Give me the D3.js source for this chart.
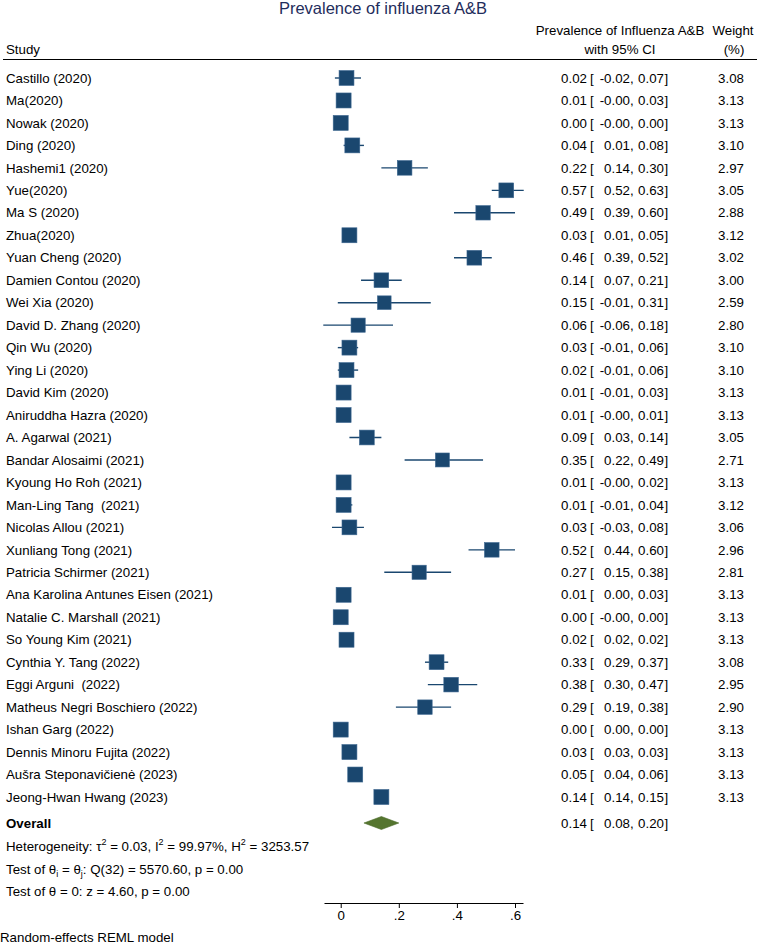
<!DOCTYPE html>
<html>
<head>
<meta charset="utf-8">
<script src="https://cdn.jsdelivr.net/npm/d3@7"></script>
<style>
  body { margin: 0; background: #fff; }
  svg { font-family: "Liberation Sans", Arial, sans-serif; }
  text { white-space: pre; }
</style>
</head>
<body>
<svg id="forest" width="761" height="944"></svg>
<script>
// study rows
var studies = [
  "Castillo (2020)", "Ma(2020)", "Nowak (2020)", "Ding (2020)", "Hashemi1 (2020)",
  "Yue(2020)", "Ma S (2020)", "Zhua(2020)", "Yuan Cheng (2020)", "Damien Contou (2020)",
  "Wei Xia (2020)", "David D. Zhang (2020)", "Qin Wu (2020)", "Ying Li (2020)", "David Kim (2020)",
  "Aniruddha Hazra (2020)", "A. Agarwal (2021)", "Bandar Alosaimi (2021)", "Kyoung Ho Roh (2021)",
  "Man-Ling Tang  (2021)", "Nicolas Allou (2021)", "Xunliang Tong (2021)", "Patricia Schirmer (2021)",
  "Ana Karolina Antunes Eisen (2021)", "Natalie C. Marshall (2021)", "So Young Kim (2021)",
  "Cynthia Y. Tang (2022)", "Eggi Arguni  (2022)", "Matheus Negri Boschiero (2022)", "Ishan Garg (2022)",
  "Dennis Minoru Fujita (2022)", "Aušra Steponavičienė (2023)", "Jeong-Hwan Hwang (2023)"
];
var est = [0.02,0.01,0.00,0.04,0.22,0.57,0.49,0.03,0.46,0.14,0.15,0.06,0.03,0.02,0.01,0.01,0.09,0.35,0.01,0.01,0.03,0.52,0.27,0.01,0.00,0.02,0.33,0.38,0.29,0.00,0.03,0.05,0.14];
var lo  = [-0.02,-0.004,-0.004,0.01,0.14,0.52,0.39,0.01,0.39,0.07,-0.01,-0.06,-0.01,-0.01,-0.01,-0.004,0.03,0.22,-0.004,-0.01,-0.03,0.44,0.15,0.00,-0.004,0.02,0.29,0.30,0.19,0.00,0.03,0.04,0.14];
var hi  = [0.07,0.03,0.00,0.08,0.30,0.63,0.60,0.05,0.52,0.21,0.31,0.18,0.06,0.06,0.03,0.01,0.14,0.49,0.02,0.04,0.08,0.60,0.38,0.03,0.00,0.02,0.37,0.47,0.38,0.00,0.03,0.06,0.15];
var weight = [3.08,3.13,3.13,3.10,2.97,3.05,2.88,3.12,3.02,3.00,2.59,2.80,3.10,3.10,3.13,3.13,3.05,2.71,3.13,3.12,3.06,2.96,2.81,3.13,3.13,3.13,3.08,2.95,2.90,3.13,3.13,3.13,3.13];
var overall = [0.14, 0.08, 0.20];
var xTicks = [0, 0.2, 0.4, 0.6];

var navy = "#1a476f", green = "#55752f";
var fs = 13.3;

var svg = d3.select("#forest");

var x = d3.scaleLinear().domain([-0.0575, 0.6275]).range([324, 523]);
var y = d3.scaleLinear().domain([0, studies.length - 1]).range([78, 797]);
var side = d3.scaleSqrt().domain([0, 3.13]).range([0, 15]);

// title + headers
svg.append("text").attr("x", 383).attr("y", 14).attr("text-anchor", "middle")
  .attr("font-size", 16.5).attr("fill", "#1f2d5c").text("Prevalence of influenza A&B");

var head = svg.append("g").attr("font-size", fs).attr("fill", "#000");
head.append("text").attr("x", 6).attr("y", 54).text("Study");
head.append("text").attr("x", 620).attr("y", 35).attr("text-anchor", "middle").text("Prevalence of Influenza A&B");
head.append("text").attr("x", 620).attr("y", 54).attr("text-anchor", "middle").text("with 95% CI");
head.append("text").attr("x", 733).attr("y", 35).attr("text-anchor", "middle").text("Weight");
head.append("text").attr("x", 734).attr("y", 54).attr("text-anchor", "middle").text("(%)");

svg.append("line").attr("x1", 3).attr("x2", 757).attr("y1", 59.5).attr("y2", 59.5)
  .attr("stroke", "#000").attr("stroke-width", 1);

function f2(v){ return v.toFixed(2); }

var rows = svg.selectAll("g.row").data(studies).enter().append("g").attr("class", "row")
  .attr("transform", function(d, i){ return "translate(0," + y(i) + ")"; });

rows.append("text").attr("x", 6).attr("dy", "0.35em").attr("font-size", fs).text(function(d){ return d; });

rows.append("line")
  .attr("x1", function(d, i){ return x(lo[i]); })
  .attr("x2", function(d, i){ return x(hi[i]); })
  .attr("stroke", navy).attr("stroke-width", 1.4);

rows.append("rect")
  .attr("x", function(d, i){ return x(est[i]) - side(weight[i]) / 2; })
  .attr("y", function(d, i){ return -side(weight[i]) / 2; })
  .attr("width", function(d, i){ return side(weight[i]); })
  .attr("height", function(d, i){ return side(weight[i]); })
  .attr("fill", navy).attr("stroke", "#3d6790").attr("stroke-width", 0.6);

function ciText(g, e, l, h){
  g.append("text").attr("x", 587).attr("text-anchor", "end").text(f2(e));
  g.append("text").attr("x", 590).text("[");
  g.append("text").attr("x", 630).attr("text-anchor", "end").text(f2(l));
  g.append("text").attr("x", 630).text(",");
  g.append("text").attr("x", 664).attr("text-anchor", "end").text(f2(h));
  g.append("text").attr("x", 664.5).text("]");
}

rows.each(function(d, i){
  var g = d3.select(this).append("g").attr("font-size", fs);
  ciText(g, est[i], lo[i], hi[i]);
  g.selectAll("text").attr("dy", "0.35em");
  d3.select(this).append("text").attr("x", 744).attr("text-anchor", "end")
    .attr("dy", "0.35em").attr("font-size", fs).text(weight[i].toFixed(2));
});

// overall
var oy = 823;
var og = svg.append("g").attr("transform", "translate(0," + oy + ")");
og.append("text").attr("x", 6).attr("dy", "0.35em").attr("font-size", fs)
  .attr("font-weight", "bold").text("Overall");
og.append("path")
  .attr("d", "M" + x(overall[1]) + ",0L" + x(overall[0]) + ",-6.5L" + x(overall[2]) + ",0L" + x(overall[0]) + ",6.5Z")
  .attr("fill", green).attr("stroke", "#4a6a28").attr("stroke-width", 0.6);
var oc = og.append("g").attr("font-size", fs);
ciText(oc, overall[0], overall[1], overall[2]);
oc.selectAll("text").attr("dy", "0.35em");

// stats lines
var st = svg.append("g").attr("font-size", fs);
var t1 = st.append("text").attr("x", 6).attr("y", 851);
t1.append("tspan").text("Heterogeneity: τ");
t1.append("tspan").attr("dy", -6).attr("font-size", 9).text("2");
t1.append("tspan").attr("dy", 6).text(" = 0.03, I");
t1.append("tspan").attr("dy", -6).attr("font-size", 9).text("2");
t1.append("tspan").attr("dy", 6).text(" = 99.97%, H");
t1.append("tspan").attr("dy", -6).attr("font-size", 9).text("2");
t1.append("tspan").attr("dy", 6).text(" = 3253.57");

var t2 = st.append("text").attr("x", 6).attr("y", 874);
t2.append("tspan").text("Test of θ");
t2.append("tspan").attr("dy", 3).attr("font-size", 9).text("i");
t2.append("tspan").attr("dy", -3).text(" = θ");
t2.append("tspan").attr("dy", 3).attr("font-size", 9).text("j");
t2.append("tspan").attr("dy", -3).text(": Q(32) = 5570.60, p = 0.00");

st.append("text").attr("x", 6).attr("y", 896).text("Test of θ = 0: z = 4.60, p = 0.00");

// x axis
var axis = d3.axisBottom(x).tickValues(xTicks).tickSize(5).tickSizeOuter(0).tickPadding(3)
  .tickFormat(function(d){ return d === 0 ? "0" : d.toFixed(1).replace(/^0/, ""); });
var ax = svg.append("g").attr("transform", "translate(0,903)").call(axis);
ax.selectAll("text").attr("font-size", fs).attr("font-family", "Liberation Sans, Arial, sans-serif").attr("fill", "#000");
ax.selectAll("line, path").attr("stroke", "#000");

svg.append("text").attr("x", 0).attr("y", 942).attr("font-size", fs).text("Random-effects REML model");
</script>
</body>
</html>
